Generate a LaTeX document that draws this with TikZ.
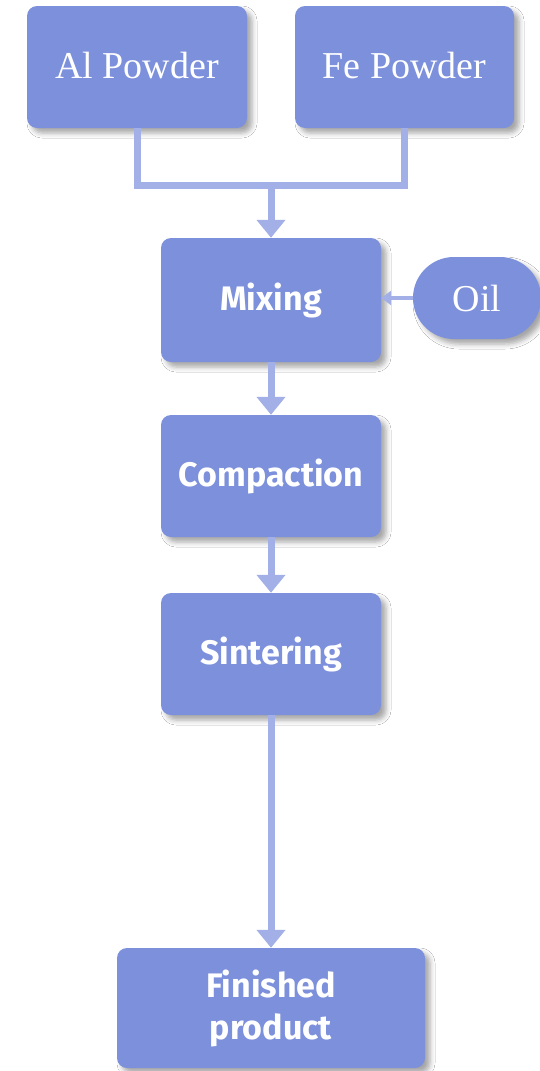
\documentclass[tikz,border=0pt]{standalone}
\usepackage{fontspec}
\setmainfont{Liberation Serif}
\newfontfamily\boxsans{Fira Sans}
\usetikzlibrary{arrows.meta,shadows.blur}
\definecolor{boxfill}{RGB}{124,144,219}
\definecolor{connc}{RGB}{162,176,231}
\tikzset{
  procbox/.style={draw=none, fill=boxfill, rounded corners=10pt, text=white,
    minimum width=220pt, minimum height=122pt, inner sep=0pt, align=center,
    blur shadow={shadow xshift=5pt, shadow yshift=-5pt, shadow blur radius=5pt, shadow opacity=35}},
  serifbox/.style={procbox, font=\fontsize{38}{44}\selectfont},
  sansbox/.style={procbox, font=\boxsans\bfseries\fontsize{34}{42}\selectfont},
  conn/.style={draw=connc, line width=7pt},
  connarrow/.style={conn, -{Triangle[width=28pt,length=18pt]}},
  thinarrow/.style={draw=connc, line width=3.5pt, -{Triangle[width=14pt,length=10pt]}}
}
\begin{document}
\begin{tikzpicture}[x=1pt,y=-1pt]
\useasboundingbox (0,0) rectangle (539,1071);
\fill[white] (0,0) rectangle (539,1071);
\node[serifbox] (al) at (137,67) {\raisebox{3pt}{Al Powder}};
\node[serifbox, minimum width=219pt] (fe) at (404.5,67) {\raisebox{3pt}{Fe Powder}};
\node[sansbox, minimum height=124pt] (mix) at (271,300) {Mixing};
\node[serifbox, minimum width=128pt, minimum height=82pt, rounded corners=41pt] (oil) at (477,298) {Oil};
\node[sansbox] (comp) at (271,476) {Compaction};
\node[sansbox] (sint) at (271,654) {Sintering};
\node[sansbox, minimum width=308pt, minimum height=120pt] (fin) at (271,1008) {Finished\\product};
\coordinate (j) at (271,185);
\draw[conn] (al.south) |- (j);
\draw[conn] (fe.south) |- (j);
\draw[connarrow] (j) -- (mix.north);
\draw[thinarrow] (oil.west) -- (oil.west -| mix.east);
\draw[connarrow] (mix.south) -- (comp.north);
\draw[connarrow] (comp.south) -- (sint.north);
\draw[connarrow] (sint.south) -- (fin.north);
\end{tikzpicture}
\end{document}
